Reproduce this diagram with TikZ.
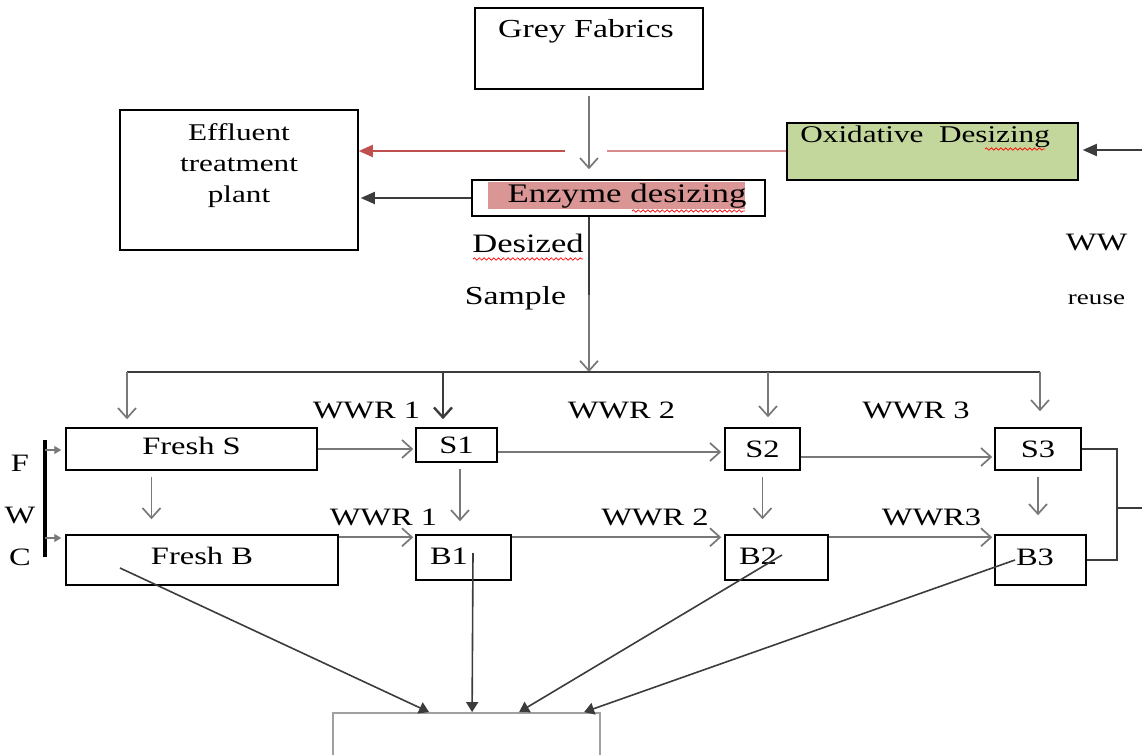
\documentclass[tikz,border=0pt]{standalone}
\usepackage{fontspec}
\setmainfont{Liberation Serif}[FakeStretch=1.3]
\usetikzlibrary{arrows.meta,calc,decorations.pathmorphing}
\definecolor{arrowgray}{RGB}{120,120,120}
\definecolor{linegray}{RGB}{60,60,60}
\definecolor{redA}{RGB}{192,80,77}
\definecolor{redB}{RGB}{214,140,138}
\definecolor{hlred}{RGB}{217,150,148}
\definecolor{oxgreen}{RGB}{195,214,155}
\tikzset{
	box/.style={draw, line width=0.75pt, inner sep=0pt},
	lbl/.style={inner sep=0pt, font=\fontsize{12.5}{15}\selectfont},
	garrow/.style={draw=arrowgray, line width=0.85pt, -{Straight Barb[length=5pt,width=9pt]}},
	darrow/.style={draw=linegray, line width=1.2pt, -{Straight Barb[length=5pt,width=9pt]}},
	barrow/.style={draw=linegray, line width=0.9pt, -{Triangle[length=7pt,width=6pt]}},
	sarrow/.style={draw=linegray, line width=0.8pt, -{Triangle[length=5pt,width=6pt]}},
	wavy/.style={draw=red, line width=0.35pt, decorate, decoration={snake, segment length=2.4pt, amplitude=0.6pt}}
}
\begin{document}
\begin{tikzpicture}[x=0.5pt, y=-0.5pt]
	\useasboundingbox (0,0) rectangle (1142,755);
	
	%top boxes
	\node[box, minimum width=114pt, minimum height=40.5pt] (grey) at (589,48.5) {};
	\node[lbl, font=\fontsize{13}{15}\selectfont] (greytxt) at (586,31) {Grey Fabrics};
	
	\node[box, minimum width=119pt, minimum height=70pt] (etp) at (239,180) {};
	\node[lbl, align=center, font=\fontsize{12}{15.5}\selectfont] (etptxt) at (239,166) {Effluent\\treatment\\plant};
	
	\node[box, fill=oxgreen, minimum width=145.5pt, minimum height=28.5pt] (oxid) at (932.5,151.5) {};
	\node[lbl, anchor=west, font=\fontsize{12}{14}\selectfont] (oxidtxt) at (800,137) {Oxidative\ \ Desizing};
	
	\fill[hlred] (488,182) rectangle (745,209);
	\node[box, minimum width=146.5pt, minimum height=18pt] (enzyme) at (618.5,198) {};
	\node[lbl, font=\fontsize{13.4}{15}\selectfont] (enztxt) at (627,196) {Enzyme desizing};
	
	\node[lbl, font=\fontsize{13.3}{15}\selectfont] (desized) at (528,243) {Desized};
	\node[lbl, font=\fontsize{13}{15}\selectfont] (sample) at (515.5,298) {Sample};
	\node[lbl] (ww) at (1096.5,243) {WW};
	\node[lbl, font=\fontsize{10.4}{12}\selectfont] (reuse) at (1096.5,300) {reuse};
	
	%spell check marks
	\draw[wavy] (985,149) -- (1045,149);
	\draw[wavy] (632,211) -- (745,211);
	\draw[wavy] (473,259) -- (583,259);
	
	%desizing arrows
	\draw[garrow, shorten <=3pt, shorten >=5pt] (grey.south) -- (grey.south |- enzyme.north);
	\coordinate (gapL) at (565,151);
	\coordinate (gapR) at (607,151);
	\draw[redB, line width=0.8pt] (oxid.west |- gapR) -- (gapR);
	\draw[redA, line width=0.9pt, -{Triangle[length=7pt,width=6pt]}] (gapL) -- (gapL -| etp.east);
	\draw[barrow, shorten >=1pt] (enzyme.west) -- (enzyme.west -| etp.east);
	\coordinate (wwin) at (1142,150);
	\draw[barrow, shorten >=2pt] (wwin) -- (wwin -| oxid.east);
	
	\coordinate (mid) at (589,295);
	\coordinate (split) at (589,372);
	\draw[linegray, line width=1.2pt] (enzyme.south -| mid) -- (mid);
	\draw[garrow] (mid) -- (split);
	
	%washing boxes
	\node[box, minimum width=125.5pt, minimum height=21pt] (freshS) at (191.5,449) {};
	\node[lbl] (freshStxt) at (191.5,446) {Fresh S};
	\node[box, lbl, draw, line width=0.75pt, minimum width=40.5pt, minimum height=17pt] (s1) at (456.5,445) {S1};
	\node[box, lbl, draw, line width=0.75pt, minimum width=37.5pt, minimum height=21pt] (s2) at (762.5,449) {S2};
	\node[box, lbl, draw, line width=0.75pt, minimum width=43pt, minimum height=21pt] (s3) at (1038,449) {S3};
	
	\node[box, minimum width=136pt, minimum height=25pt] (freshB) at (202,560) {};
	\node[lbl] (freshBtxt) at (202,556) {Fresh B};
	\node[box, minimum width=47.5pt, minimum height=22.5pt] (b1) at (463.5,557.5) {};
	\node[lbl] (b1txt) at (449,556) {B1};
	\node[box, minimum width=51.5pt, minimum height=22.5pt] (b2) at (776.5,557.5) {};
	\node[lbl] (b2txt) at (758,556) {B2};
	\node[box, minimum width=45.5pt, minimum height=25pt] (b3) at (1040.5,560) {};
	\node[lbl] (b3txt) at (1035,557) {B3};
	
	%water labels
	\node[lbl] (wwrs1) at (366.5,410) {WWR 1};
	\node[lbl] (wwrs2) at (621.5,410) {WWR 2};
	\node[lbl] (wwrs3) at (916,410) {WWR 3};
	\node[lbl] (wwrb1) at (383.5,517) {WWR 1};
	\node[lbl] (wwrb2) at (655,517) {WWR 2};
	\node[lbl] (wwrb3) at (931.5,517) {WWR3};
	
	\node[lbl] (f) at (20,463) {F};
	\node[lbl] (w) at (20,516) {W};
	\node[lbl] (c) at (20,557) {C};
	
	%distribution line
	\draw[linegray, line width=1.2pt] (127,372) -- (1040,372);
	\foreach \n/\x/\s/\st in {freshS/127/4/garrow, s1/443/4/darrow, s2/768/5/garrow, s3/1040/8/garrow}{
		\coordinate (drop\n) at (\x,372);
		\draw[\st, shorten >=\s pt] (drop\n) -- (drop\n |- \n.north);
	}
	
	%rinse flow
	\draw[garrow, shorten >=1pt] (freshS.east) -- (freshS.east -| s1.west);
	\coordinate (s1out) at ($(s1.east)+(0,7)$);
	\draw[garrow, shorten >=1.5pt] (s1out) -- (s1out -| s2.west);
	\coordinate (s2out) at ($(s2.east)+(0,8)$);
	\draw[garrow, shorten >=1pt] (s2out) -- (s2out -| s3.west);
	
	\coordinate (fbout) at ($(freshB.north east)+(0,3)$);
	\draw[garrow, shorten >=1pt] (fbout) -- (fbout -| b1.west);
	\coordinate (b1out) at ($(b1.north east)+(0,3)$);
	\draw[garrow, shorten >=1.5pt] (b1out) -- (b1out -| b2.west);
	\coordinate (b2out) at ($(b2.north east)+(0,3)$);
	\draw[garrow, shorten >=1pt] (b2out) -- (b2out -| b3.west);
	
	\coordinate (fsdown) at ($(freshS.south)+(-40,0)$);
	\draw[garrow, shorten <=3pt, shorten >=7.5pt] (fsdown) -- (fsdown |- freshB.north);
	\coordinate (s1down) at ($(s1.south)+(3.5,0)$);
	\draw[garrow, shorten <=3pt, shorten >=6.5pt] (s1down) -- (s1down |- b1.north);
	\draw[garrow, shorten <=3pt, shorten >=7.5pt] (s2.south) -- (s2.south |- b2.north);
	\draw[garrow, shorten <=3pt, shorten >=9.5pt] (s3.south) -- (s3.south |- b3.north);
	
	%fresh water inlet
	\draw[line width=1.6pt] (45,440) -- (45,557);
	\coordinate (fin) at (45,450);
	\coordinate (cin) at (45,538);
	\draw[arrowgray, line width=0.6pt, -{Triangle[length=3.5pt,width=4pt]}, shorten >=2pt] (fin) -- (fin -| freshS.west);
	\draw[arrowgray, line width=0.6pt, -{Triangle[length=3.5pt,width=4pt]}, shorten >=2pt] (cin) -- (cin -| freshB.west);
	
	%reuse return
	\coordinate (br) at (1117,508);
	\coordinate (edge) at (1142,508);
	\draw[linegray, line width=0.75pt] (s3.east) -- (s3.east -| br) -- (b3.east -| br) -- (b3.east);
	\draw[linegray, line width=0.75pt] (br) -- (edge);
	
	%collection
	\node[draw=arrowgray!70, line width=0.9pt, minimum width=133.5pt, minimum height=32pt, inner sep=0pt] (sink) at (466.5,745) {};
	\coordinate (fbsrc) at ($(freshB.center)+(-82,8)$);
	\coordinate (b1src) at ($(b1.center)+(9.5,-4.5)$);
	\coordinate (b2src) at ($(b2.center)+(5.5,-2.5)$);
	\coordinate (b3src) at ($(b3.center)+(-25.5,0)$);
	\draw[sarrow] (fbsrc) -- ($(sink.north west)+(97,0)$);
	\draw[sarrow] (b1src) -- ($(sink.north west)+(140,0)$);
	\draw[sarrow] (b2src) -- ($(sink.north west)+(187,0)$);
	\draw[sarrow] (b3src) -- ($(sink.north west)+(252,0)$);
\end{tikzpicture}
\end{document}
